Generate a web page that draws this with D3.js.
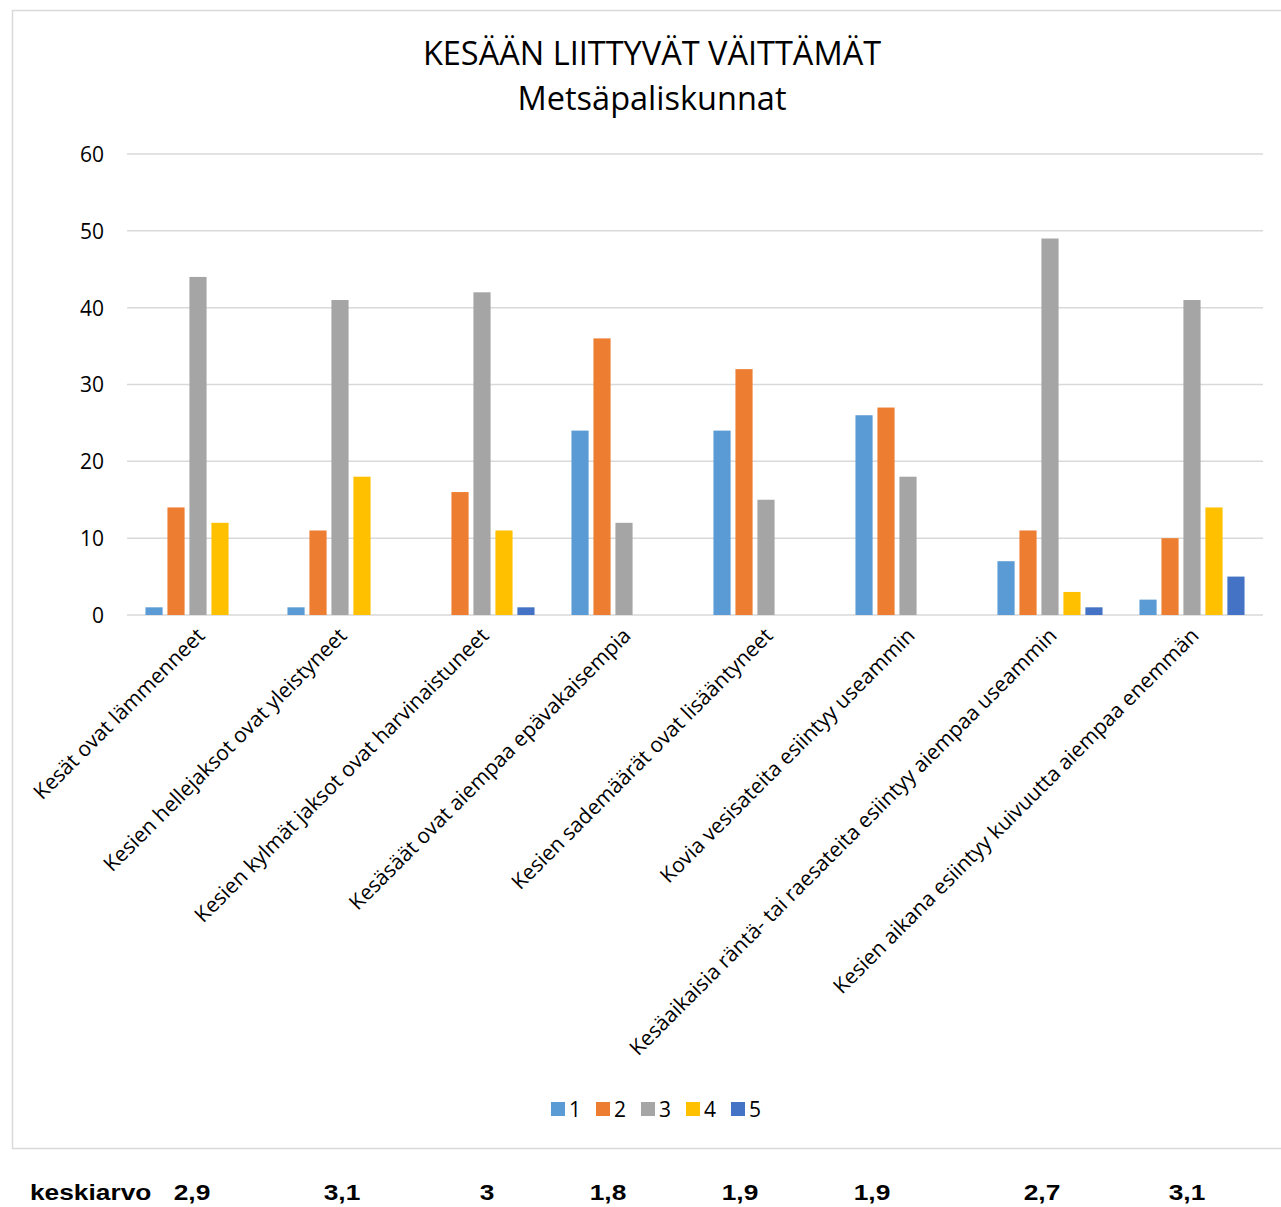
<!DOCTYPE html>
<html>
<head>
<meta charset="utf-8">
<script src="https://d3js.org/d3.v7.min.js"></script>
<style>
  body { margin: 0; background: #fff; }
  svg text { font-family: "Open Sans", sans-serif; fill: #000; }
</style>
</head>
<body>
<div id="chart"></div>
<script>
// data
var categories = [
    "Kesät ovat lämmenneet",
    "Kesien hellejaksot ovat yleistyneet",
    "Kesien kylmät jaksot ovat harvinaistuneet",
    "Kesäsäät ovat aiempaa epävakaisempia",
    "Kesien sademäärät ovat lisääntyneet",
    "Kovia vesisateita esiintyy useammin",
    "Kesäaikaisia räntä- tai raesateita esiintyy aiempaa useammin",
    "Kesien aikana esiintyy kuivuutta aiempaa enemmän"
];
var seriesNames = ["1", "2", "3", "4", "5"];
var s1 = [1, 1, 0, 24, 24, 26, 7, 2];
var s2 = [14, 11, 16, 36, 32, 27, 11, 10];
var s3 = [44, 41, 42, 12, 15, 18, 49, 41];
var s4 = [12, 18, 11, 0, 0, 0, 3, 14];
var s5 = [0, 0, 1, 0, 0, 0, 1, 5];
var means = ["2,9", "3,1", "3", "1,8", "1,9", "1,9", "2,7", "3,1"];
var yTicks = [0, 10, 20, 30, 40, 50, 60];

var colors = ["#5B9BD5", "#ED7D31", "#A5A5A5", "#FFC000", "#4472C4"];
var series = [s1, s2, s3, s4, s5];

var W = 1281, H = 1207;
var margin = {top: 154, left: 127, right: 18, bottom: 592};
var width = W - margin.left - margin.right,
    height = H - margin.top - margin.bottom;

var svg = d3.select("#chart").append("svg")
    .attr("width", W)
    .attr("height", H);

// chart frame
svg.append("rect")
    .attr("x", 12.5).attr("y", 10.5)
    .attr("width", W + 10).attr("height", 1138)
    .attr("fill", "none")
    .attr("stroke", "#d9d9d9")
    .attr("stroke-width", 1.5);

svg.append("text")
    .attr("x", 652).attr("y", 65)
    .attr("text-anchor", "middle")
    .style("font-size", "32.5px")
    .text("KESÄÄN LIITTYVÄT VÄITTÄMÄT");
svg.append("text")
    .attr("x", 652).attr("y", 110)
    .attr("text-anchor", "middle")
    .style("font-size", "32.5px")
    .text("Metsäpaliskunnat");

var g = svg.append("g")
    .attr("transform", "translate(" + margin.left + "," + margin.top + ")");

var x = d3.scaleBand()
    .domain(categories)
    .range([0, width])
    .paddingInner(0.26)
    .paddingOuter(0.13);
var xs = d3.scaleBand()
    .domain(seriesNames)
    .range([0, x.bandwidth()])
    .paddingInner(0.22);
var y = d3.scaleLinear()
    .domain([0, 60])
    .range([height, 0]);

// gridlines
g.append("g")
    .selectAll("line")
    .data(yTicks)
    .enter()
    .append("line")
      .attr("x1", 0).attr("x2", width)
      .attr("y1", function(d) { return y(d); })
      .attr("y2", function(d) { return y(d); })
      .attr("stroke", "#d9d9d9")
      .attr("stroke-width", 1.5);

var yAxis = g.append("g")
    .call(d3.axisLeft(y).tickValues(yTicks).tickSize(0).tickPadding(23));
yAxis.select(".domain").remove();
yAxis.selectAll("text")
    .style("font-size", "21px")
    .style("font-family", "Open Sans, sans-serif")
    .attr("dy", "0.35em");

// bars
series.forEach(function(vals, si) {
    g.append("g")
        .selectAll("rect")
        .data(vals)
        .enter()
        .append("rect")
          .attr("x", function(d, i) { return x(categories[i]) + xs(seriesNames[si]); })
          .attr("y", function(d) { return y(d); })
          .attr("width", xs.bandwidth())
          .attr("height", function(d) { return height - y(d); })
          .style("fill", colors[si]);
});

// rotated category labels
g.append("g")
    .selectAll("text")
    .data(categories)
    .enter()
    .append("text")
      .attr("transform", function(d) {
          var cx = x(d) + x.bandwidth() / 2 + 8;
          return "translate(" + cx + "," + (height + 22) + ") rotate(-45)";
      })
      .attr("text-anchor", "end")
      .style("font-size", "21px")
      .text(function(d) { return d; });

// legend
var legend = svg.append("g").attr("transform", "translate(551,1102)");
var item = legend.selectAll("g")
    .data(seriesNames)
    .enter()
    .append("g")
      .attr("transform", function(d, i) { return "translate(" + (i * 45) + ",0)"; });
item.append("rect")
    .attr("width", 14).attr("height", 14)
    .style("fill", function(d, i) { return colors[i]; });
item.append("text")
    .attr("x", 18).attr("y", 15)
    .style("font-size", "21px")
    .text(function(d) { return d; });

// mean row below the chart (text there is a bit wide, so stretch it)
var stretch = 1.17;
var meanShift = [-6, 2, 5, -16, -26, -36, -8, -5];
var row = svg.append("g")
    .attr("transform", "translate(0,1200) scale(" + stretch + ",1)");
row.append("text")
    .attr("x", 30 / stretch).attr("y", 0)
    .style("font-family", "Liberation Sans, Arial, sans-serif")
    .style("font-weight", "bold")
    .style("font-size", "22.5px")
    .text("keskiarvo");
row.selectAll("text.mean")
    .data(means)
    .enter()
    .append("text")
      .attr("class", "mean")
      .attr("x", function(d, i) { return (margin.left + x(categories[i]) + x.bandwidth() / 2 + meanShift[i]) / stretch; })
      .attr("y", 0)
      .attr("text-anchor", "middle")
      .style("font-family", "Liberation Sans, Arial, sans-serif")
      .style("font-weight", "bold")
      .style("font-size", "22.5px")
      .text(function(d) { return d; });
</script>
</body>
</html>
